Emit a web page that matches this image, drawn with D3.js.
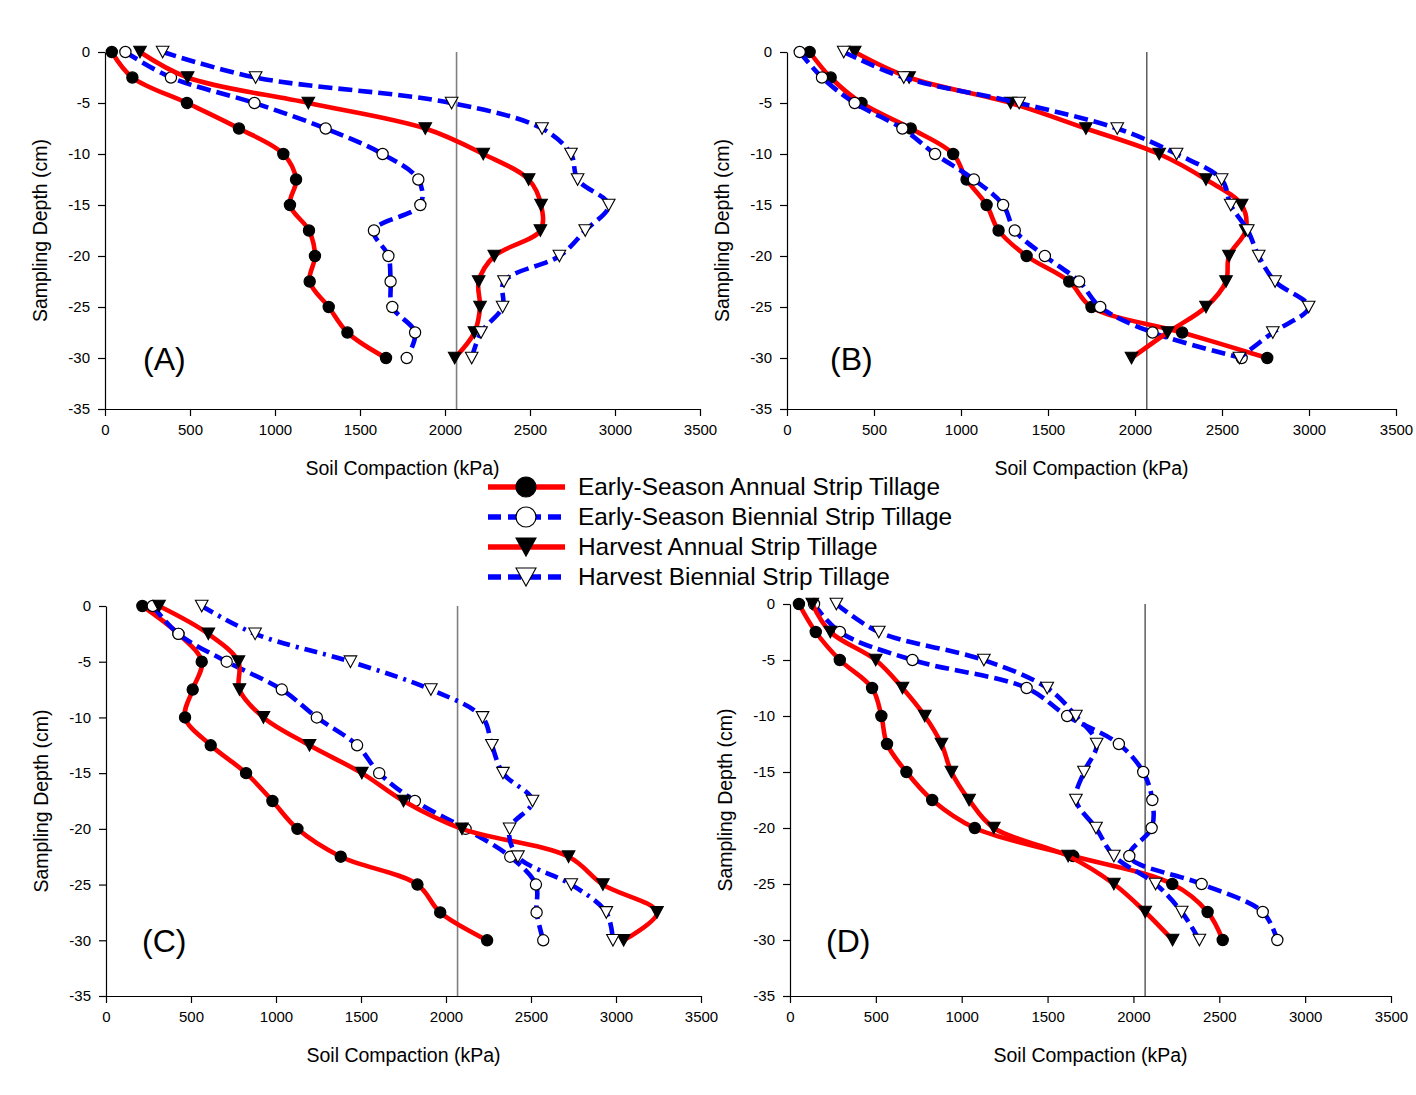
<!DOCTYPE html>
<html>
<head>
<meta charset="utf-8">
<style>
  body {
    margin: 0;
    background: #fff;
    font-family: "Liberation Sans", Arial, sans-serif;
  }
  svg {
    display: block;
  }
  .axis text {
    font-family: "Liberation Sans", Arial, sans-serif;
    font-size: 15px;
    fill: #000;
  }
  .axis path, .axis line {
    stroke: #000;
    stroke-width: 1.2px;
  }
  .axis-title {
    font-size: 19.5px;
    text-anchor: middle;
  }
  .panel-label {
    font-size: 32px;
  }
  .legend text {
    font-size: 24.4px;
  }
</style>
</head>
<body>
<script src="https://d3js.org/d3.v7.min.js"></script>
<script>

  var depths = [0, -2.5, -5, -7.5, -10, -12.5, -15, -17.5, -20, -22.5, -25, -27.5, -30];
  var xTicks = [0, 500, 1000, 1500, 2000, 2500, 3000, 3500];
  var yTicks = [0, -5, -10, -15, -20, -25, -30, -35];
  var threshold = 2068;

  var seriesNames = ["Early-Season Annual Strip Tillage", "Early-Season Biennial Strip Tillage",
                     "Harvest Annual Strip Tillage", "Harvest Biennial Strip Tillage"];
  var panelLabels = ["(A)", "(B)", "(C)", "(D)"];

  // panel A
  var aEarlyAnnual   = [40, 161, 482, 788, 1049, 1124, 1088, 1200, 1235, 1204, 1316, 1426, 1653];
  var aEarlyBiennial = [120, 388, 879, 1298, 1633, 1843, 1855, 1582, 1667, 1680, 1690, 1824, 1775];
  var aHarvAnnual    = [206, 486, 1196, 1884, 2225, 2492, 2565, 2561, 2290, 2198, 2206, 2173, 2057];
  var aHarvBiennial  = [339, 886, 2039, 2571, 2741, 2780, 2963, 2825, 2673, 2347, 2339, 2212, 2157];

  // panel B
  var bEarlyAnnual   = [130, 251, 428, 711, 955, 1032, 1147, 1216, 1377, 1622, 1750, 2271, 2760];
  var bEarlyBiennial = [73, 201, 389, 663, 851, 1074, 1242, 1309, 1482, 1679, 1800, 2101, 2613];
  var bHarvAnnual    = [389, 702, 1285, 1718, 2139, 2408, 2613, 2636, 2540, 2523, 2408, 2187, 1980];
  var bHarvBiennial  = [326, 671, 1334, 1898, 2239, 2498, 2550, 2648, 2711, 2805, 2998, 2792, 2600];

  // panel C
  var cEarlyAnnual   = [214, 426, 563, 510, 465, 616, 824, 979, 1126, 1381, 1832, 1966, 2242];
  var cEarlyBiennial = [275, 426, 710, 1034, 1240, 1477, 1607, 1817, 2115, 2378, 2529, 2533, 2572];
  var cHarvAnnual    = [312, 602, 779, 785, 926, 1197, 1505, 1750, 2094, 2721, 2923, 3241, 3045];
  var cHarvBiennial  = [563, 877, 1438, 1911, 2215, 2270, 2335, 2509, 2374, 2423, 2737, 2943, 2982];

  // panel D
  var dEarlyAnnual   = [52, 150, 290, 478, 532, 565, 678, 828, 1076, 1649, 2226, 2432, 2520];
  var dEarlyBiennial = [140, 290, 713, 1378, 1614, 1915, 2057, 2110, 2106, 1976, 2397, 2753, 2838];
  var dHarvAnnual    = [130, 235, 499, 655, 785, 882, 940, 1043, 1187, 1620, 1886, 2069, 2228];
  var dHarvBiennial  = [270, 517, 1129, 1498, 1665, 1786, 1712, 1665, 1782, 1886, 2129, 2281, 2384];

  var panelData = [
    [aEarlyAnnual, aEarlyBiennial, aHarvAnnual, aHarvBiennial],
    [bEarlyAnnual, bEarlyBiennial, bHarvAnnual, bHarvBiennial],
    [cEarlyAnnual, cEarlyBiennial, cHarvAnnual, cHarvBiennial],
    [dEarlyAnnual, dEarlyBiennial, dHarvAnnual, dHarvBiennial]
  ];

  // layout of the four panels (pixels)
  var layout = [
    {left: 105, right: 700, top: 52, bottom: 409, labelDx: 38, threshColor: "#808080", threshWidth: 1.6},
    {left: 787, right: 1396, top: 52, bottom: 409, labelDx: 43, threshColor: "#222", threshWidth: 1.1},
    {left: 106, right: 701, top: 606, bottom: 996, labelDx: 36, threshColor: "#808080", threshWidth: 1.6},
    {left: 790, right: 1391, top: 604, bottom: 996, labelDx: 36, threshColor: "#222", threshWidth: 1.1}
  ];

  var styles = [
    {color: "#ff0000", dash: null, marker: "circle", fill: "#000"},
    {color: "#0000ff", dash: "14,6", marker: "circle", fill: "#fff"},
    {color: "#ff0000", dash: null, marker: "triangle", fill: "#000"},
    {color: "#0000ff", dash: "14,6", marker: "triangle", fill: "#fff"}
  ];
  var dashDot = "13,6,3,6";

  var svg = d3.select("body").append("svg")
       .attr("width", 1416)
       .attr("height", 1095);

  function triPath(w, h) {
    return "M" + (-w) + "," + (-h) + "L" + w + "," + (-h) + "L0," + h + "Z";
  }

  function drawMarker(g, st, x, y, big) {
    if (st.marker == "circle") {
      g.append("circle")
         .attr("cx", x)
         .attr("cy", y)
         .attr("r", big ? 10 : 5.6)
         .attr("fill", st.fill)
         .attr("stroke", "#000")
         .attr("stroke-width", 1.2);
    } else {
      g.append("path")
         .attr("d", big ? triPath(10, 9) : triPath(6.3, 5.8))
         .attr("transform", "translate(" + x + "," + y + ")")
         .attr("fill", st.fill)
         .attr("stroke", "#000")
         .attr("stroke-width", 1.1);
    }
  }

  var plainFormat = function(d) { return String(d); };

  layout.forEach(function(p, pi) {
    var g = svg.append("g");

    var x = d3.scaleLinear().domain([0, 3500]).range([p.left, p.right]);
    var y = d3.scaleLinear().domain([-35, 0]).range([p.bottom, p.top]);

    g.append("g")
       .attr("class", "x axis")
       .attr("transform", "translate(0," + p.bottom + ")")
       .call(d3.axisBottom(x).tickValues(xTicks).tickFormat(plainFormat)
             .tickSize(7).tickSizeOuter(0).tickPadding(8));

    g.append("g")
       .attr("class", "y axis")
       .attr("transform", "translate(" + p.left + ",0)")
       .call(d3.axisLeft(y).tickValues(yTicks).tickFormat(plainFormat)
             .tickSize(7).tickSizeOuter(0).tickPadding(8));

    // threshold line
    g.append("line")
       .attr("x1", x(threshold)).attr("x2", x(threshold))
       .attr("y1", y(0)).attr("y2", y(-35))
       .attr("stroke", p.threshColor)
       .attr("stroke-width", p.threshWidth);

    g.append("text")
       .attr("class", "axis-title")
       .attr("x", (p.left + p.right) / 2)
       .attr("y", p.bottom + 66)
       .text("Soil Compaction (kPa)");

    g.append("text")
       .attr("class", "axis-title")
       .attr("transform", "translate(" + (p.left - 58) + "," + ((p.top + p.bottom) / 2) + ") rotate(-90)")
       .text("Sampling Depth (cm)");

    g.append("text")
       .attr("class", "panel-label")
       .attr("x", p.left + p.labelDx)
       .attr("y", y(-30) + 12)
       .text(panelLabels[pi]);

    var line = d3.line()
         .x(function(d) { return x(d[0]); })
         .y(function(d) { return y(d[1]); })
         .curve(d3.curveCatmullRom.alpha(0.5));

    panelData[pi].forEach(function(vals, si) {
      var st = styles[si];
      var pts = vals.map(function(v, i) { return [v, depths[i]]; });
      var dash = st.dash;
      if (pi == 2 && si == 3) dash = dashDot;

      g.append("path")
         .datum(pts)
         .attr("d", line)
         .attr("fill", "none")
         .attr("stroke", st.color)
         .attr("stroke-width", 4.6)
         .attr("stroke-dasharray", dash);

      var mg = g.append("g");
      pts.forEach(function(d) {
        drawMarker(mg, st, x(d[0]), y(d[1]), false);
      });
    });
  });

  // legend
  var legend = svg.append("g").attr("class", "legend");
  seriesNames.forEach(function(name, i) {
    var st = styles[i];
    var ly = 487 + i * 30;
    legend.append("line")
       .attr("x1", 488).attr("x2", 565)
       .attr("y1", ly).attr("y2", ly)
       .attr("stroke", st.color)
       .attr("stroke-width", 5.5)
       .attr("stroke-dasharray", st.dash ? "13,7" : null);
    drawMarker(legend, st, 526, ly, true);
    legend.append("text")
       .attr("x", 578)
       .attr("y", ly + 8)
       .text(name);
  });

</script>
</body>
</html>
